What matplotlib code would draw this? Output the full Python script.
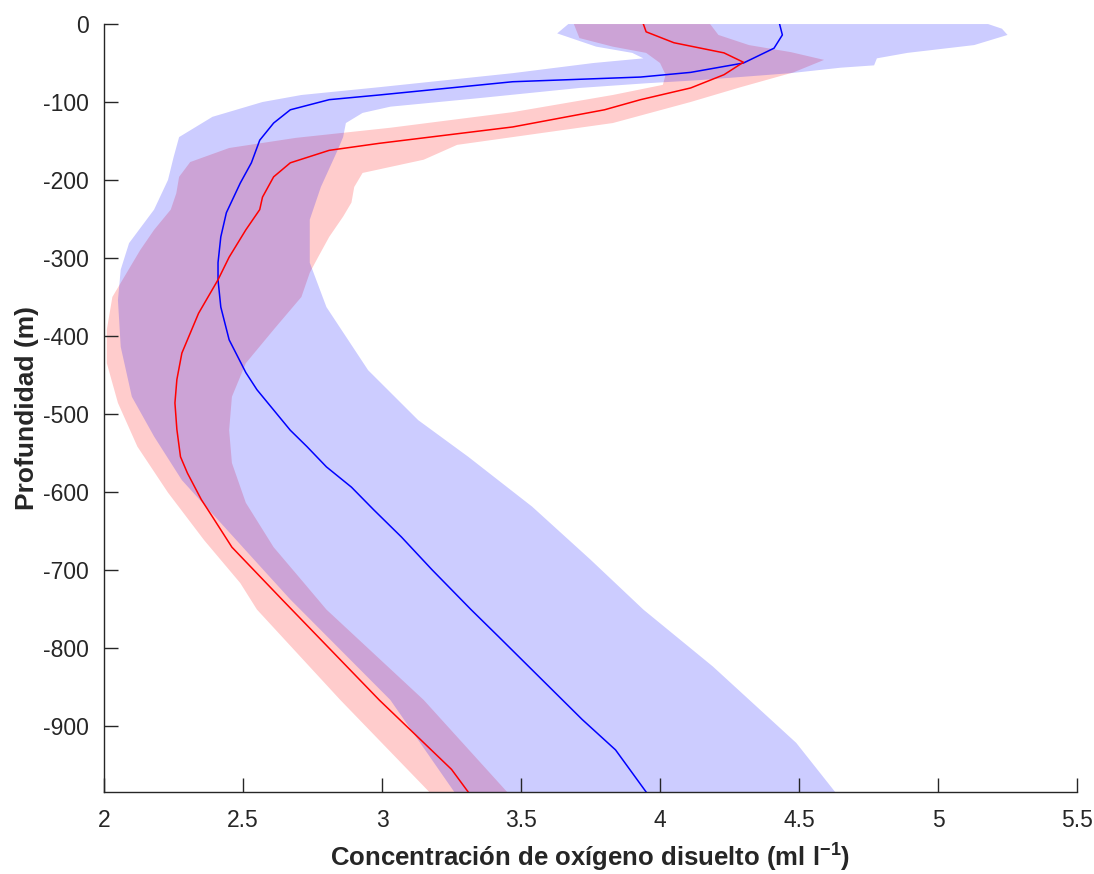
import matplotlib
matplotlib.use("Agg")
import matplotlib.pyplot as plt

plt.rcParams["font.family"] = ["Liberation Sans", "DejaVu Sans"]
plt.rcParams["axes.unicode_minus"] = False
plt.rcParams["mathtext.fontset"] = "custom"
plt.rcParams["mathtext.rm"] = "Liberation Sans"
plt.rcParams["mathtext.bf"] = "Liberation Sans:bold"

# mean profiles (depth m, oxygen ml/l)
blue_depth = [0, 14, 31, 50, 62, 68, 74, 91, 97, 110, 127, 149, 178, 204, 242,
              273, 306, 328, 363, 405, 447, 469, 495, 521, 542, 568, 594, 623,
              658, 700, 751, 786, 892, 931, 985]
blue_mean = [4.43, 4.44, 4.41, 4.30, 4.11, 3.93, 3.47, 2.99, 2.81, 2.67, 2.61,
             2.56, 2.53, 2.49, 2.44, 2.42, 2.41, 2.41, 2.42, 2.45, 2.51, 2.55,
             2.61, 2.67, 2.73, 2.80, 2.89, 2.97, 3.07, 3.18, 3.32, 3.42, 3.72,
             3.84, 3.95]

red_depth = [0, 10, 24, 37, 49, 65, 82, 97, 110, 132, 153, 162, 178, 196, 222,
             238, 264, 299, 328, 371, 422, 456, 486, 520, 555, 576, 610, 632,
             671, 738, 867, 956, 985]
red_mean = [3.94, 3.95, 4.05, 4.23, 4.30, 4.23, 4.11, 3.93, 3.80, 3.47, 2.99,
            2.81, 2.67, 2.61, 2.57, 2.56, 2.51, 2.45, 2.41, 2.34, 2.28, 2.262,
            2.255, 2.262, 2.275, 2.30, 2.35, 2.39, 2.46, 2.64, 2.99, 3.25, 3.31]

# spread envelopes
blue_lo_depth = [0, 12, 29, 37, 44, 50, 63, 72, 81, 91, 100, 119, 145, 171, 200,
                 238, 281, 315, 354, 414, 478, 529, 585, 636, 691, 738, 867, 985]
blue_lo = [3.67, 3.63, 3.77, 3.90, 3.94, 3.76, 3.47, 3.23, 2.99, 2.71, 2.57,
           2.39, 2.27, 2.25, 2.23, 2.18, 2.09, 2.06, 2.05, 2.06, 2.10, 2.18,
           2.28, 2.41, 2.55, 2.67, 3.03, 3.26]
blue_hi_depth = [0, 6, 14, 27, 37, 44, 53, 56, 63, 72, 76, 82, 95, 106, 114, 127,
                 145, 162, 209, 251, 306, 363, 444, 508, 555, 619, 687, 751,
                 824, 922, 985]
blue_hi = [5.18, 5.23, 5.25, 5.13, 4.89, 4.78, 4.77, 4.65, 4.47, 4.14, 3.95,
           3.71, 3.35, 3.03, 2.93, 2.87, 2.86, 2.84, 2.78, 2.74, 2.74, 2.80,
           2.95, 3.13, 3.31, 3.54, 3.75, 3.94, 4.19, 4.49, 4.63]

red_lo_depth = [0, 18, 29, 37, 50, 65, 78, 91, 113, 133, 146, 159, 177, 196, 217,
                238, 264, 290, 350, 392, 435, 486, 542, 601, 662, 717, 751, 867,
                985]
red_lo = [3.69, 3.71, 3.83, 3.95, 4.00, 4.02, 4.01, 3.83, 3.47, 3.03, 2.69,
          2.45, 2.31, 2.27, 2.26, 2.24, 2.18, 2.13, 2.03, 2.01, 2.01, 2.05,
          2.12, 2.23, 2.36, 2.49, 2.55, 2.85, 3.17]
red_hi_depth = [0, 14, 27, 36, 46, 62, 81, 100, 127, 145, 155, 174, 191, 209,
                229, 247, 273, 299, 319, 350, 392, 435, 478, 521, 563, 614, 671,
                713, 751, 867, 985]
red_hi = [4.18, 4.21, 4.32, 4.47, 4.59, 4.48, 4.29, 4.11, 3.83, 3.47, 3.27,
          3.15, 2.93, 2.90, 2.89, 2.86, 2.81, 2.77, 2.74, 2.71, 2.61, 2.51,
          2.46, 2.45, 2.46, 2.51, 2.61, 2.71, 2.80, 3.15, 3.45]

x_ticks = [2, 2.5, 3, 3.5, 4, 4.5, 5, 5.5]
y_ticks = [0, -100, -200, -300, -400, -500, -600, -700, -800, -900]


def band(ax, lo_d, lo, hi_d, hi, color):
    xs = list(lo) + list(hi)[::-1]
    ys = [-d for d in lo_d] + [-d for d in hi_d][::-1]
    ax.fill(xs, ys, color=color, alpha=0.2, lw=0)


def main():
    fig = plt.figure(figsize=(10.94, 8.74), dpi=100)
    ax = fig.add_axes([0.0951, 0.0938, 0.8894, 0.8787])

    band(ax, red_lo_depth, red_lo, red_hi_depth, red_hi, (1, 0, 0))
    band(ax, blue_lo_depth, blue_lo, blue_hi_depth, blue_hi, (0, 0, 1))

    ax.plot(blue_mean, [-d for d in blue_depth], color=(0, 0, 1), lw=1.1)
    ax.plot(red_mean, [-d for d in red_depth], color=(1, 0, 0), lw=1.1)

    ax.set_xlim(2, 5.5)
    ax.set_ylim(-985, 0)
    ax.set_xticks(x_ticks)
    ax.set_xticklabels([f"{t:g}" for t in x_ticks])
    ax.set_yticks(y_ticks)
    ax.set_yticklabels([str(t) for t in y_ticks])

    axis_col = (0.15, 0.15, 0.15)
    for side in ("top", "right"):
        ax.spines[side].set_visible(False)
    for side in ("left", "bottom"):
        ax.spines[side].set_color(axis_col)
        ax.spines[side].set_linewidth(1.0)
    ax.tick_params(direction="in", length=10, width=1.0, colors=axis_col,
                   labelsize=16.5)
    ax.tick_params(axis="x", pad=12)
    ax.tick_params(axis="y", pad=11)

    ax.set_xlabel(r"Concentración de oxígeno disuelto (ml l$^{\mathbf{-1}}$)",
                  fontsize=18.5, fontweight="bold", color=axis_col, labelpad=6)
    ax.set_ylabel("Profundidad (m)", fontsize=19, fontweight="bold",
                  color=axis_col, labelpad=3)

    fig.savefig("out.png", dpi=100)


if __name__ == "__main__":
    main()
